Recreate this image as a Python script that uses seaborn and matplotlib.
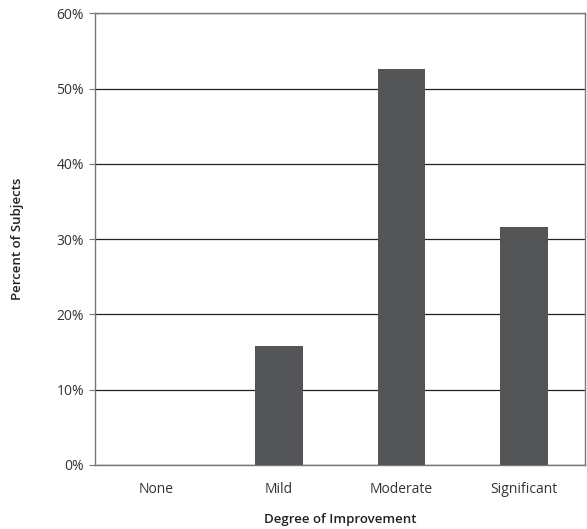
import matplotlib
matplotlib.use("Agg")
import matplotlib.pyplot as plt
import seaborn as sns
import pandas as pd
from matplotlib.ticker import FuncFormatter

categories = ["None", "Mild", "Moderate", "Significant"]
percents = [0.0, 15.8, 52.6, 31.6]
yticks = [0, 10, 20, 30, 40, 50, 60]

sns.set_theme(style="white")
plt.rcParams['font.family'] = ['Open Sans', 'DejaVu Sans']

df = pd.DataFrame({"Degree": categories, "Percent": percents})

fig = plt.figure(figsize=(5.87, 5.29), dpi=100)
ax = fig.add_axes([0.162, 0.121, 0.835, 0.854])

ax.yaxis.grid(True, color="#222222", linewidth=0.9)
ax.set_axisbelow(True)
sns.barplot(data=df, x="Degree", y="Percent", color="#545557", width=0.39,
            saturation=1, linewidth=0, ax=ax, zorder=3)

ax.set_ylim(0, 60)
ax.set_xlim(-0.5, 3.5)
ax.set_yticks(yticks)
ax.yaxis.set_major_formatter(FuncFormatter(lambda v, p: f"{int(v)}%"))
ax.tick_params(axis="y", which="major", left=True, length=4, width=0.8,
               color="#777777", labelsize=10, labelcolor="#333333", pad=4)
ax.tick_params(axis="x", length=0, labelsize=10, labelcolor="#333333", pad=12)
for s in ax.spines.values():
    s.set_color("#777777")
    s.set_linewidth(1.0)
ax.set_xlabel("")
ax.set_ylabel("")
fig.text(340 / 587, 1 - 520 / 529, "Degree of Improvement", fontsize=9.5,
         fontweight="semibold", color="#222222", ha="center", va="center")
fig.text(18 / 587, 1 - 239 / 529, "Percent of Subjects", fontsize=9.5,
         fontweight="semibold", color="#222222", ha="center", va="center",
         rotation=90)

fig.savefig("out.png", dpi=100)
